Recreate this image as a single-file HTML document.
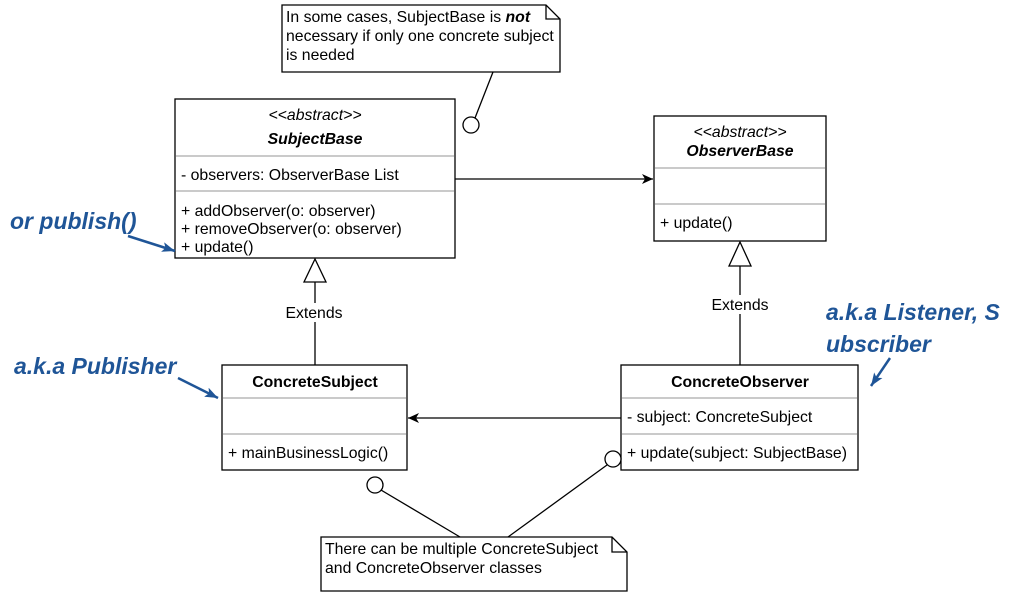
<!DOCTYPE html>
<html><head><meta charset="utf-8"><style>
html,body{margin:0;padding:0;background:#fff}
svg{display:block}
text{font-family:"Liberation Sans",sans-serif;font-size:15.8px;fill:#000}
.b{font-family:"Liberation Sans",sans-serif;font-weight:bold;font-style:italic;fill:#1f5597;font-size:23px}
</style></head><body>
<svg width="1010" height="598" viewBox="0 0 1010 598" xmlns="http://www.w3.org/2000/svg">
<defs>
<marker id="ah" markerWidth="12" markerHeight="10" refX="11" refY="5" orient="auto" markerUnits="userSpaceOnUse"><path d="M0,0 L11,5 L0,10 L3,5 Z" fill="#000"/></marker>
<marker id="bh" markerWidth="14" markerHeight="10" refX="13" refY="5" orient="auto" markerUnits="userSpaceOnUse"><path d="M0,0 L13,5 L0,10 L3,5 Z" fill="#1f5597"/></marker>
</defs>
<g stroke="#000" stroke-width="1.3" fill="#fff">
<path d="M282,5 H546 L560,19 V72 H282 Z"/><path d="M546,5 V19 H560" fill="none"/>
<line x1="493" y1="72" x2="475" y2="118"/><circle cx="471" cy="125" r="8"/>
<rect x="175" y="99" width="280" height="159"/>
<rect x="654" y="116" width="172" height="125"/>
<rect x="222" y="365" width="185" height="105"/>
<rect x="621" y="365" width="237" height="105"/>
<line x1="455" y1="179" x2="653" y2="179" marker-end="url(#ah)"/>
<line x1="621" y1="418" x2="408" y2="418" marker-end="url(#ah)"/>
<line x1="315" y1="282" x2="315" y2="303"/><line x1="315" y1="322" x2="315" y2="365"/>
<path d="M315,259 L304,282 L326,282 Z"/>
<line x1="740" y1="266" x2="740" y2="295"/><line x1="740" y1="314" x2="740" y2="365"/>
<path d="M740,242 L729,266 L751,266 Z"/>
<line x1="381" y1="490" x2="460" y2="537"/><circle cx="375" cy="485" r="8"/>
<line x1="607" y1="465" x2="508" y2="537"/><circle cx="613" cy="459" r="8"/>
<path d="M321,537 H612 L627,552 V591 H321 Z"/><path d="M612,537 V552 H627" fill="none"/>
</g>
<g stroke="#aaa" stroke-width="1.3">
<line x1="176" y1="156" x2="454" y2="156"/><line x1="176" y1="191" x2="454" y2="191"/>
<line x1="655" y1="168" x2="825" y2="168"/><line x1="655" y1="204" x2="825" y2="204"/>
<line x1="223" y1="398" x2="406" y2="398"/><line x1="223" y1="434" x2="406" y2="434"/>
<line x1="622" y1="398" x2="857" y2="398"/><line x1="622" y1="434" x2="857" y2="434"/>
</g>
<text x="286" y="22">In some cases, SubjectBase is <tspan font-weight="bold" font-style="italic">not</tspan></text>
<text x="286" y="41">necessary if only one concrete subject</text>
<text x="286" y="60">is needed</text>
<text x="315" y="120" text-anchor="middle" font-style="italic">&lt;&lt;abstract&gt;&gt;</text>
<text x="315" y="144" text-anchor="middle" font-style="italic" font-weight="bold">SubjectBase</text>
<text x="181" y="180">- observers: ObserverBase List</text>
<text x="181" y="216">+ addObserver(o: observer)</text>
<text x="181" y="234">+ removeObserver(o: observer)</text>
<text x="181" y="252">+ update()</text>
<text x="740" y="137" text-anchor="middle" font-style="italic">&lt;&lt;abstract&gt;&gt;</text>
<text x="740" y="156" text-anchor="middle" font-style="italic" font-weight="bold">ObserverBase</text>
<text x="660" y="228">+ update()</text>
<text x="314" y="318" text-anchor="middle">Extends</text>
<text x="740" y="310" text-anchor="middle">Extends</text>
<text x="315" y="387" text-anchor="middle" font-weight="bold">ConcreteSubject</text>
<text x="228" y="458">+ mainBusinessLogic()</text>
<text x="740" y="387" text-anchor="middle" font-weight="bold">ConcreteObserver</text>
<text x="627" y="422">- subject: ConcreteSubject</text>
<text x="627" y="458">+ update(subject: SubjectBase)</text>
<text x="325" y="554">There can be multiple ConcreteSubject</text>
<text x="325" y="573">and ConcreteObserver classes</text>
<text class="b" x="10" y="229">or publish()</text>
<text class="b" x="14" y="374">a.k.a Publisher</text>
<text class="b" x="826" y="320">a.k.a Listener, S</text>
<text class="b" x="826" y="352">ubscriber</text>
<g stroke="#1f5597" stroke-width="2.5" fill="none">
<line x1="128" y1="236" x2="175" y2="251" marker-end="url(#bh)"/>
<line x1="178" y1="378" x2="218" y2="398" marker-end="url(#bh)"/>
<line x1="890" y1="358" x2="871" y2="386" marker-end="url(#bh)"/>
</g>
</svg>
</body></html>
